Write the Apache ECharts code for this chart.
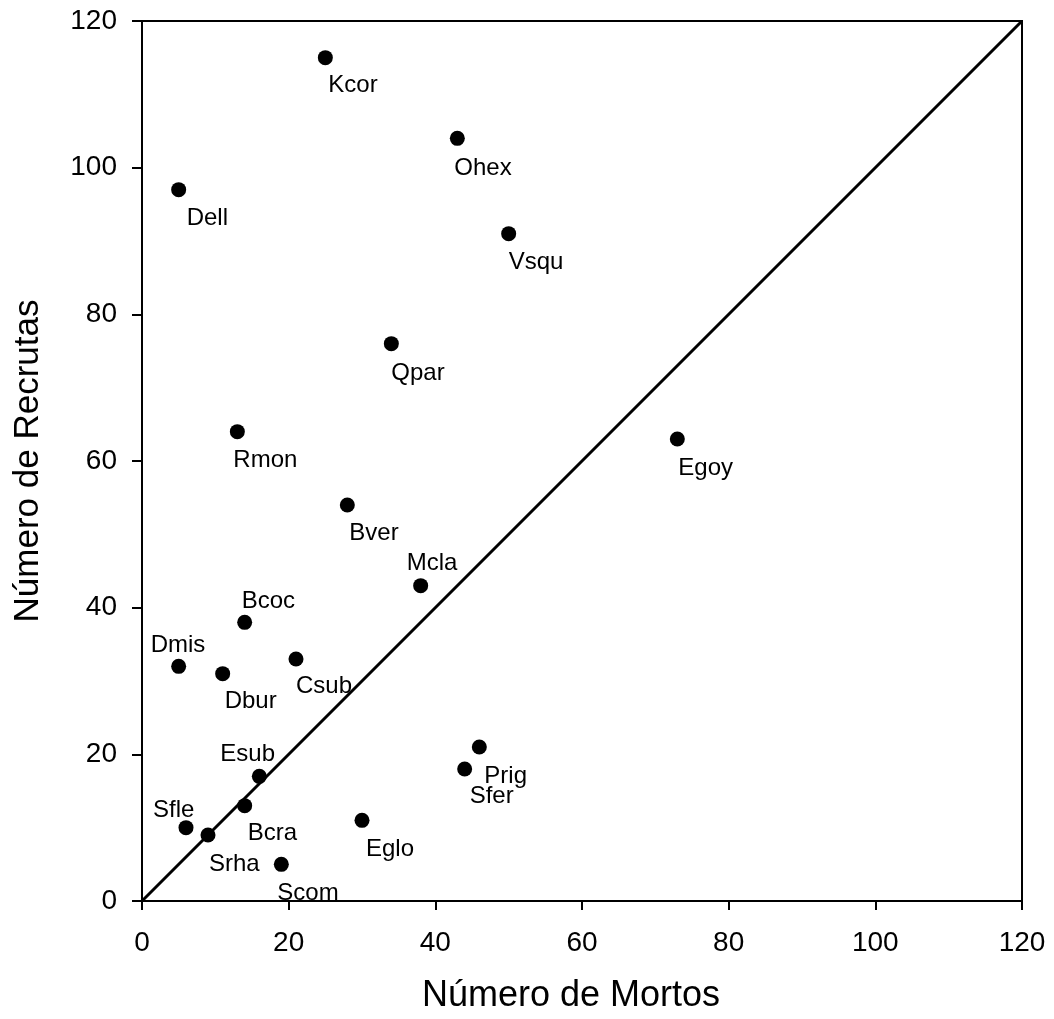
<!DOCTYPE html>
<html>
<head>
<meta charset="utf-8">
<script src="https://cdn.jsdelivr.net/npm/echarts@6/dist/echarts.min.js"></script>
<style>
html,body{margin:0;padding:0;background:#fff;}
#chart{width:1054px;height:1019px;}
</style>
</head>
<body>
<div id="chart"></div>
<script>
// ---- data ----
const species = ["Kcor","Ohex","Dell","Vsqu","Qpar","Rmon","Egoy","Bver","Mcla","Bcoc","Dmis","Dbur","Csub","Prig","Sfer","Esub","Bcra","Sfle","Srha","Eglo","Scom"];
const mortos   = [25, 43, 5, 50, 34, 13, 73, 28, 38, 14, 5, 11, 21, 46, 44, 16, 14, 6, 9, 30, 19];
const recrutas = [115, 104, 97, 91, 76, 64, 63, 54, 43, 38, 32, 31, 33, 21, 18, 17, 13, 10, 9, 11, 5];
const xTicks = [0, 20, 40, 60, 80, 100, 120];
const yTicks = [0, 20, 40, 60, 80, 100, 120];
const identityLine = [[0, 0], [120, 120]];

// ---- label placement (pixel offsets from dot centre; styling only) ----
const labelOffset = {
  Kcor:[3,28], Ohex:[-3,30], Dell:[8,29], Vsqu:[0,29], Qpar:[0,30], Rmon:[-4,29],
  Egoy:[1,29], Bver:[2,28], Mcla:[-14,-22], Bcoc:[-3,-21], Dmis:[-28,-21],
  Dbur:[2,28], Csub:[0,27], Prig:[5,29], Sfer:[5,27], Esub:[-39,-22],
  Bcra:[3,28], Sfle:[-33,-17], Srha:[1,29], Eglo:[4,29], Scom:[-4,29]
};

const FONT = "'Liberation Sans', Arial, sans-serif";

const points = species.map((n, i) => ({
  name: n,
  value: [mortos[i], recrutas[i]],
  label: { offset: labelOffset[n] || [0, 28] }
}));

const chart = echarts.init(document.getElementById('chart'), null, {renderer: 'canvas'});
chart.setOption({
  animation: false,
  backgroundColor: '#fff',
  textStyle: { fontFamily: FONT },
  grid: { left: 142, right: 32, top: 21, bottom: 118, show: true, borderColor: '#000', borderWidth: 2, backgroundColor: 'transparent' },
  xAxis: {
    type: 'value', min: xTicks[0], max: xTicks[xTicks.length-1], interval: 20,
    name: 'Número de Mortos', nameLocation: 'middle', nameGap: 77,
    nameTextStyle: { fontFamily: FONT, fontSize: 36, color: '#000', padding: [0, 22, 0, 0] },
    axisLine: { show: true, lineStyle: { color: '#000', width: 2 } },
    axisTick: { show: true, inside: false, length: 9, lineStyle: { color: '#000', width: 2 } },
    axisLabel: { fontFamily: FONT, fontSize: 28, color: '#000', margin: 28 },
    splitLine: { show: false }
  },
  yAxis: {
    type: 'value', min: yTicks[0], max: yTicks[yTicks.length-1], interval: 20,
    name: 'Número de Recrutas', nameLocation: 'middle', nameGap: 96, nameRotate: 90,
    nameTextStyle: { fontFamily: FONT, fontSize: 35, color: '#000' },
    axisLine: { show: true, lineStyle: { color: '#000', width: 2 } },
    axisTick: { show: true, inside: false, length: 10, lineStyle: { color: '#000', width: 2 } },
    axisLabel: { fontFamily: FONT, fontSize: 28, color: '#000', margin: 25 },
    splitLine: { show: false }
  },
  series: [
    {
      type: 'line', data: identityLine, symbol: 'none', silent: true, z: 1,
      lineStyle: { color: '#000', width: 3 }
    },
    {
      type: 'scatter', data: points, symbol: 'circle', symbolSize: 15, z: 3,
      itemStyle: { color: '#000', opacity: 1 },
      label: {
        show: true, formatter: '{b}', position: 'inside', align: 'left', verticalAlign: 'middle',
        fontFamily: FONT, fontSize: 24, color: '#000'
      }
    }
  ]
});
</script>
</body>
</html>
